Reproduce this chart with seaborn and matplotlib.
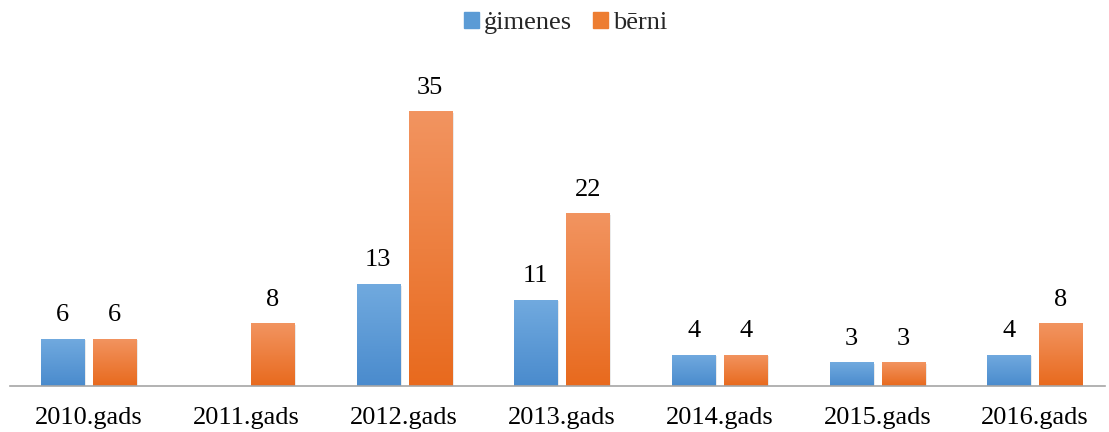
import numpy as np
import pandas as pd
import matplotlib
matplotlib.use("Agg")
import matplotlib.pyplot as plt
import seaborn as sns
from matplotlib.colors import LinearSegmentedColormap

years = ["2010.gads", "2011.gads", "2012.gads", "2013.gads", "2014.gads", "2015.gads", "2016.gads"]
gimenes = [6, np.nan, 13, 11, 4, 3, 4]
berni = [6, 8, 35, 22, 4, 3, 8]
series = ["ġimenes", "bērni"]

df = pd.DataFrame({
    "gads": years * 2,
    "sērija": [series[0]] * len(years) + [series[1]] * len(years),
    "skaits": gimenes + berni,
})

sns.set_style("white")
plt.rcParams["font.family"] = ["Liberation Serif", "DejaVu Serif"]

colors = {"ġimenes": "#5b9bd5", "bērni": "#ed7d31"}
grads = {
    "ġimenes": ("#71aadf", "#4a8bcd"),
    "bērni": ("#f29460", "#e86a1e"),
}

fig = plt.figure(figsize=(11.09, 4.32), dpi=100)
ax = fig.add_axes([10 / 1109, 46 / 432, 1095 / 1109, 314 / 432])

sns.barplot(data=df, x="gads", y="skaits", hue="sērija", order=years,
            hue_order=series, palette=colors, width=0.66, gap=0.173,
            ax=ax, legend=False, saturation=1)

# gradient fill on each bar
for cont, name in zip(ax.containers, series):
    cmap = LinearSegmentedColormap.from_list(name, [grads[name][1], grads[name][0]])
    for p in cont.patches:
        h = p.get_height()
        if not np.isfinite(h) or h <= 0:
            continue
        x0 = p.get_x()
        w = p.get_width()
        # soft shadow
        ax.bar(x0 + w / 2 + 0.012, h, width=w, bottom=-0.2, color="#000000",
               alpha=0.1, zorder=1.5, linewidth=0)
        img = ax.imshow(np.linspace(0, 1, 100).reshape(-1, 1), cmap=cmap,
                        extent=[x0, x0 + w, 0, h], origin="lower",
                        aspect="auto", zorder=2.5)
        img.set_clip_path(p)
        ax.annotate(f"{int(h)}", (x0 + w / 2, h), xytext=(0, 9),
                    textcoords="offset points", ha="center", va="bottom",
                    fontsize=19, color="#000000")
    for p in cont.patches:
        p.set_zorder(2)

ax.set_aspect("auto")
ax.set_ylim(0, 40)
ax.set_xlim(-0.5, 6.444)

ax.set_xlabel("")
ax.set_ylabel("")
ax.set_yticks([])
for s in ["top", "right", "left"]:
    ax.spines[s].set_visible(False)
ax.spines["bottom"].set_color("#a6a6a6")
ax.spines["bottom"].set_linewidth(1.2)
ax.spines["bottom"].set_zorder(3)
ax.tick_params(axis="x", length=0, pad=15, labelsize=19, colors="#000000")

handles = [plt.Rectangle((0, 0), 1, 1, color=colors[s]) for s in series]
fig.legend(handles, series, loc="upper center", bbox_to_anchor=(0.51, 1.027),
           ncol=2, frameon=False, fontsize=19, handlelength=0.55,
           handleheight=0.55, handletextpad=0.2, columnspacing=0.8)

fig.savefig("out.png", dpi=100)
